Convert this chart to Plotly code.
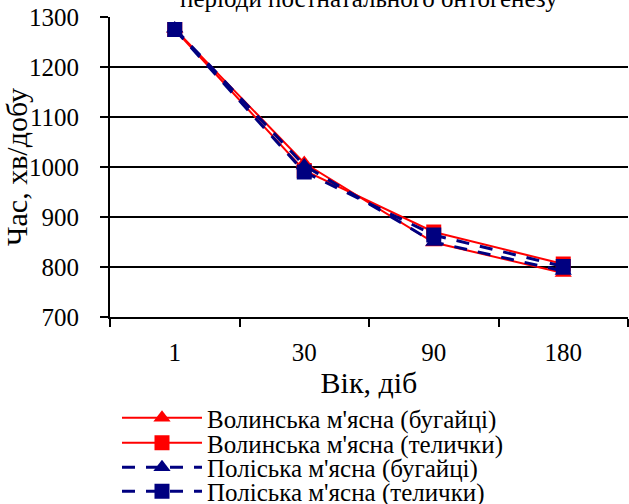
import plotly.graph_objects as go

ages = ["1", "30", "90", "180"]
volyn_bulls = [1276, 1008, 849, 788]
volyn_heifers = [1275, 993, 870, 806]
polissia_bulls = [1277, 1003, 850, 792]
polissia_heifers = [1275, 990, 864, 801]

names = [
    "Волинська м'ясна (бугайці)",
    "Волинська м'ясна (телички)",
    "Поліська м'ясна (бугайці)",
    "Поліська м'ясна (телички)",
]

RED = "#ff0000"
NAVY = "#000080"
FONT = "Liberation Serif"
FS = 25

fig = go.Figure()
series = [
    (volyn_bulls, names[0], RED, "solid", "triangle-up", "legend"),
    (volyn_heifers, names[1], RED, "solid", "square", "legend2"),
    (polissia_bulls, names[2], NAVY, "13px,11px", "triangle-up", "legend3"),
    (polissia_heifers, names[3], NAVY, "13px,11px", "square", "legend4"),
]
for vals, name, color, dash, sym, leg in series:
    fig.add_trace(go.Scatter(
        x=ages, y=vals, name=name, mode="lines+markers", legend=leg,
        line=dict(color=color, width=2 if dash == "solid" else 3, dash=dash),
        marker=dict(symbol=sym, size=15, color=color),
    ))

fig.add_annotation(
    text="періоди постнатального онтогенезу",
    x=0.5, xref="paper", y=1.0, yref="paper", yshift=3, yanchor="bottom",
    showarrow=False, font=dict(family=FONT, size=FS, color="black"),
)

# one legend block per series, stacked below the x-axis title
legend_rows = [418.0, 443.0, 467.5, 491.5]
legend_style = {}
for i, yc in enumerate(legend_rows):
    key = "legend" if i == 0 else f"legend{i + 1}"
    legend_style[key] = dict(
        x=0.0135, xanchor="left", y=(317 - yc) / 300, yanchor="middle",
        itemwidth=80, bgcolor="rgba(0,0,0,0)",
        font=dict(family=FONT, size=FS, color="black"),
    )

fig.update_layout(
    width=629, height=504,
    margin=dict(l=110, r=1, t=17, b=187, autoexpand=False),
    paper_bgcolor="white", plot_bgcolor="white",
    font=dict(family=FONT, size=FS, color="black"),
    showlegend=True,
    **legend_style,
)
fig.update_xaxes(
    type="category", range=[-0.5, 3.5], tickson="boundaries",
    ticks="outside", ticklen=8, tickwidth=2, tickcolor="black",
    showline=True, linecolor="black", linewidth=2, showgrid=False,
    ticklabelstandoff=12,
    title=dict(text="Вік, діб", standoff=7),
)
fig.update_yaxes(
    range=[700, 1300], dtick=100,
    ticks="outside", ticklen=8, tickwidth=2, tickcolor="black",
    showline=True, linecolor="black", linewidth=2,
    showgrid=True, gridcolor="black", gridwidth=2, zeroline=False,
    ticklabelstandoff=16,
    title=dict(text="Час, хв/добу", standoff=2),
)

fig.write_html("out.html")
